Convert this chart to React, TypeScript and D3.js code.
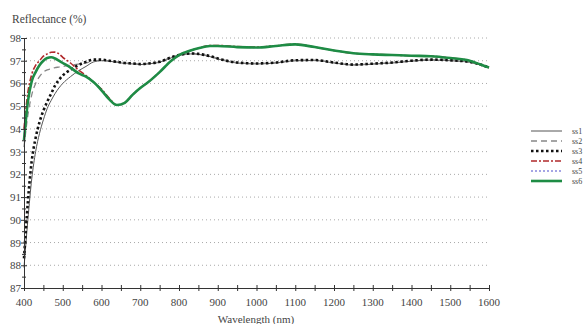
import * as d3 from "d3";
import React, { useRef, useEffect } from "react";

const wavelengths = [400, 410, 420, 430, 440, 450, 460, 470, 480, 490, 500, 520, 540, 560, 580, 600, 620, 640, 660, 680, 700, 720, 750, 780, 800, 830, 850, 880, 900, 950, 1000, 1050, 1100, 1150, 1200, 1250, 1300, 1350, 1400, 1450, 1500, 1550, 1580, 1600];

const ss1 = [87.9, 90.0, 91.8, 93.0, 93.8, 94.4, 94.9, 95.25, 95.55, 95.8, 96.0, 96.3, 96.55, 96.75, 96.95, 97.0, 96.98, 96.93, 96.88, 96.86, 96.83, 96.86, 96.93, 97.13, 97.23, 97.3, 97.28, 97.18, 97.08, 96.9, 96.86, 96.9, 97.0, 97.01, 96.9, 96.81, 96.85, 96.9, 96.98, 97.03, 97.0, 96.93, 96.8, 96.68];
const ss2 = [93.2, 94.6, 95.5, 96.0, 96.3, 96.5, 96.6, 96.65, 96.7, 96.72, 96.75, 96.8, 96.85, 96.9, 97.0, 97.02, 97.0, 96.95, 96.9, 96.88, 96.85, 96.88, 96.95, 97.15, 97.25, 97.32, 97.3, 97.2, 97.1, 96.92, 96.88, 96.92, 97.02, 97.03, 96.92, 96.83, 96.87, 96.92, 97.0, 97.05, 97.02, 96.95, 96.82, 96.7];
const ss3 = [88.3, 90.8, 92.6, 93.6, 94.3, 94.8, 95.2, 95.55, 95.9, 96.15, 96.35, 96.6, 96.8, 96.95, 97.05, 97.05, 97.0, 96.95, 96.9, 96.88, 96.85, 96.88, 96.95, 97.15, 97.25, 97.32, 97.3, 97.2, 97.1, 96.92, 96.88, 96.92, 97.02, 97.03, 96.92, 96.83, 96.87, 96.92, 97.0, 97.05, 97.02, 96.95, 96.82, 96.7];
const ss4 = [94.0, 95.6, 96.4, 96.8, 97.0, 97.2, 97.3, 97.37, 97.38, 97.3, 97.15, 96.9, 96.6, 96.35, 96.05, 95.75, 95.35, 95.05, 95.15, 95.5, 95.8, 96.05, 96.5, 97.0, 97.25, 97.45, 97.55, 97.67, 97.67, 97.62, 97.6, 97.66, 97.73, 97.6, 97.45, 97.33, 97.28, 97.25, 97.22, 97.2, 97.12, 97.0, 96.82, 96.7];
const ss5 = [93.6, 95.2, 96.1, 96.5, 96.8, 97.0, 97.12, 97.15, 97.1, 97.0, 96.9, 96.7, 96.45, 96.3, 96.05, 95.7, 95.3, 95.05, 95.15, 95.5, 95.8, 96.05, 96.5, 97.0, 97.25, 97.45, 97.55, 97.65, 97.65, 97.6, 97.58, 97.65, 97.72, 97.6, 97.45, 97.33, 97.28, 97.25, 97.22, 97.2, 97.12, 97.0, 96.82, 96.7];
const ss6 = [93.5, 95.2, 96.1, 96.5, 96.8, 97.0, 97.12, 97.15, 97.1, 97.0, 96.9, 96.7, 96.45, 96.3, 96.05, 95.7, 95.3, 95.05, 95.15, 95.5, 95.8, 96.05, 96.5, 97.0, 97.25, 97.45, 97.55, 97.65, 97.65, 97.6, 97.58, 97.65, 97.72, 97.6, 97.45, 97.33, 97.28, 97.25, 97.22, 97.2, 97.12, 97.0, 96.82, 96.7];

const seriesNames = ["ss1", "ss2", "ss3", "ss4", "ss5", "ss6"];
const xTicks = [400, 500, 600, 700, 800, 900, 1000, 1100, 1200, 1300, 1400, 1500, 1600];
const yTicks = [87, 88, 89, 90, 91, 92, 93, 94, 95, 96, 97, 98];

const styles = [
  { color: "#555", width: 1, dash: null },
  { color: "#888", width: 1.3, dash: "6,4" },
  { color: "#111", width: 2.6, dash: "2.5,2.5" },
  { color: "#b0282a", width: 1.6, dash: "6,2,2,2" },
  { color: "#8888dd", width: 1.3, dash: "2,2" },
  { color: "#1e8c45", width: 2.6, dash: null },
];

const App = () => {
  const ref = useRef(null);
  const W = 583;
  const H = 324;

  useEffect(() => {
    const svg = d3.select(ref.current);
    svg.selectAll("*").remove();
    const font = "'Liberation Serif', 'DejaVu Serif', serif";

    const x = d3.scaleLinear().domain([400, 1600]).range([24, 489]);
    const y = d3.scaleLinear().domain([87, 98]).range([288, 38]);

    // grid
    svg.append("g")
      .selectAll("line")
      .data(yTicks.slice(1))
      .enter()
      .append("line")
      .attr("x1", 26).attr("x2", 490)
      .attr("y1", (d) => y(d)).attr("y2", (d) => y(d))
      .attr("stroke", "#aaa")
      .attr("stroke-dasharray", "1,3");

    const allSeries = [ss1, ss2, ss3, ss4, ss5, ss6];
    const line = d3.line()
      .x((d) => x(d[0]))
      .y((d) => y(d[1]))
      .curve(d3.curveMonotoneX);

    allSeries.forEach((s, i) => {
      const st = styles[i];
      svg.append("path")
        .datum(wavelengths.map((w, j) => [w, s[j]]))
        .attr("d", line)
        .attr("fill", "none")
        .attr("stroke", st.color)
        .attr("stroke-width", st.width)
        .attr("stroke-dasharray", st.dash);
    });

    // axes
    const axisLeft = svg.append("g")
      .attr("transform", "translate(24,0)")
      .call(d3.axisLeft(y).tickValues(d3.range(87, 98.01, 0.5)).tickSize(3).tickFormat(""));
    axisLeft.selectAll("line").attr("x2", 3).attr("x1", -3).attr("stroke", "#333");
    axisLeft.select(".domain").attr("stroke", "#333");
    axisLeft.selectAll(".tick line")
      .attr("x1", (d) => (d % 1 === 0 ? -3 : -2))
      .attr("x2", (d) => (d % 1 === 0 ? 3 : 2));

    svg.append("g")
      .selectAll("text")
      .data(yTicks)
      .enter()
      .append("text")
      .attr("x", 21)
      .attr("y", (d) => y(d) + 4)
      .attr("text-anchor", "end")
      .attr("font-family", font)
      .attr("font-size", 11)
      .attr("fill", "#444")
      .text((d) => d);

    const axisBottom = svg.append("g")
      .attr("transform", "translate(0,288)")
      .call(d3.axisBottom(x).tickValues(d3.range(400, 1601, 50)).tickSize(3).tickFormat(""));
    axisBottom.select(".domain").attr("stroke", "#333");
    axisBottom.selectAll(".tick line").attr("y1", -3).attr("y2", 3).attr("stroke", "#333");

    svg.append("g")
      .selectAll("text")
      .data(xTicks)
      .enter()
      .append("text")
      .attr("x", (d) => x(d))
      .attr("y", 306)
      .attr("text-anchor", "middle")
      .attr("font-family", font)
      .attr("font-size", 11)
      .attr("fill", "#444")
      .text((d) => d);

    svg.append("text")
      .attr("x", 256)
      .attr("y", 323)
      .attr("text-anchor", "middle")
      .attr("font-family", font)
      .attr("font-size", 11)
      .attr("fill", "#444")
      .text("Wavelength (nm)");

    svg.append("text")
      .attr("x", 12)
      .attr("y", 23)
      .attr("font-family", font)
      .attr("font-size", 11.5)
      .attr("fill", "#444")
      .text("Reflectance (%)");

    // legend
    const legend = svg.append("g").attr("transform", "translate(531,131)");
    seriesNames.forEach((n, i) => {
      const st = styles[i];
      legend.append("line")
        .attr("x1", 0).attr("x2", 31)
        .attr("y1", i * 10).attr("y2", i * 10)
        .attr("stroke", st.color)
        .attr("stroke-width", st.width)
        .attr("stroke-dasharray", st.dash);
      legend.append("text")
        .attr("x", 41)
        .attr("y", i * 10 + 3)
        .attr("font-family", font)
        .attr("font-size", 8)
        .attr("fill", "#444")
        .text(n);
    });
  }, []);

  return (
    <svg
      ref={ref}
      width={W}
      height={H}
      style={{ position: "absolute", left: 0, top: 0, background: "#fff" }}
    />
  );
};

export default App;
